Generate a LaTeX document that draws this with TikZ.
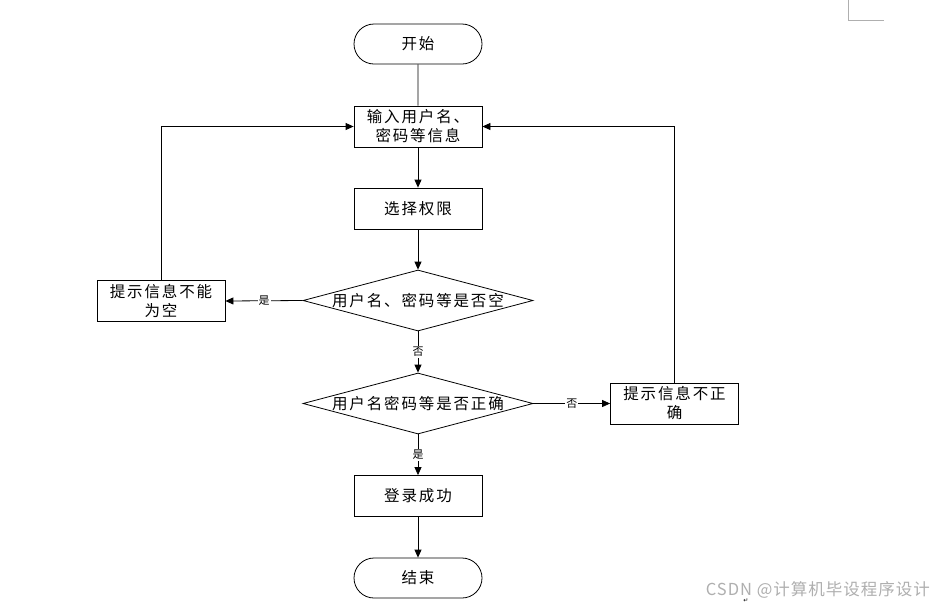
\documentclass[tikz,border=0pt]{standalone}
\usepackage{fontspec}
\setmainfont{Noto Sans CJK SC}[LetterSpace=12]
\newfontfamily\wmfont{Noto Sans CJK SC}[LetterSpace=6]
\newfontfamily\symfont{DejaVu Sans}
\usetikzlibrary{shapes.geometric,shapes.misc,arrows.meta}
\definecolor{wmgray}{RGB}{175,175,175}
\begin{document}
\begin{tikzpicture}[x=1pt,y=-1pt,
  txt/.style={font=\fontsize{15.5}{19}\selectfont},
  box/.style={txt, draw, rectangle, line width=0.8pt, minimum width=128pt, minimum height=41pt, inner sep=0pt, align=center},
  term/.style={txt, draw, rounded rectangle, line width=0.8pt, minimum width=128pt, minimum height=40pt, inner sep=0pt},
  dia/.style={draw, diamond, line width=0.8pt, aspect=3.77, minimum width=230pt, minimum height=61pt, inner sep=0pt},
  line/.style={line width=0.8pt},
  arr/.style={line, -{Triangle[length=8pt,width=7pt]}},
  lab/.style={fill=white, inner sep=1pt, font=\fontsize{11}{11}\selectfont}]
\useasboundingbox (0,0) rectangle (934,606);
\fill[white] (0,0) rectangle (934,606);

\node[term] (start) at (418,44) {开始};
\node[box] (input) at (418,126.5) {输入用户名、\\密码等信息};
\node[box] (sel) at (418,208.5) {选择权限};
\node[dia, label={[txt]center:用户名、密码等是否空}] (d1) at (418,300.5) {};
\node[dia, label={[txt]center:用户名密码等是否正确}] (d2) at (418,403.5) {};
\node[box] (ok) at (418,496) {登录成功};
\node[term] (stop) at (418,578) {结束};
\node[box] (warn1) at (161,301) {提示信息不能\\为空};
\node[box] (warn2) at (674.5,403.5) {提示信息不正\\确};

\draw[line] (start) -- (input);
\draw[arr] (input) -- (sel);
\draw[arr] (sel) -- (d1);
\draw[arr] (d1.west) -- node[lab] {是} (warn1.east);
\draw[arr] (d1.south) -- node[lab] {否} (d2.north);
\draw[arr] (d2.east) -- node[lab] {否} (warn2.west);
\draw[arr] (d2.south) -- node[lab] {是} (ok.north);
\draw[arr] (ok) -- (stop);
\draw[arr] (warn1.north) |- (input.west);
\draw[arr] (warn2.north) |- (input.east);

\draw[wmgray, line width=1pt] (848,0) -- (848,20) -- (884,20);
\node[anchor=east, text=wmgray, font=\wmfont\fontsize{16.5}{16.5}\selectfont, inner sep=0pt] (wm) at (930,590) {CSDN @计算机毕设程序设计};
\node[font=\symfont\fontsize{6}{6}\selectfont, inner sep=0pt] (pm) at (746,601) {↵};
\end{tikzpicture}
\end{document}
